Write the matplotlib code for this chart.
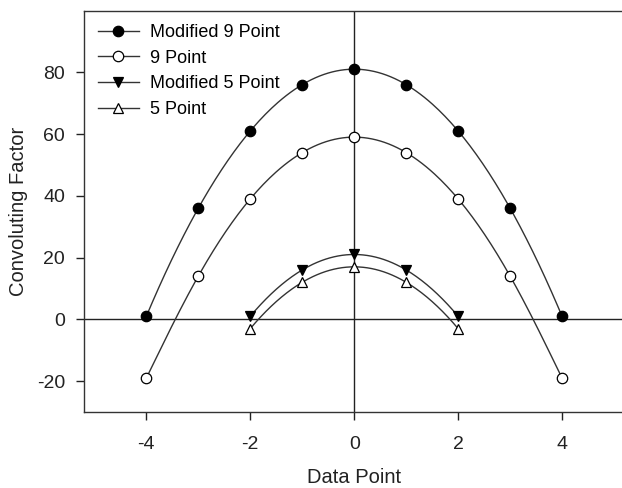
import numpy as np
import matplotlib
matplotlib.use("Agg")
import matplotlib.pyplot as plt

plt.rcParams['font.family'] = ['Liberation Sans', 'DejaVu Sans']
plt.rcParams['axes.unicode_minus'] = False

x9 = [-4, -3, -2, -1, 0, 1, 2, 3, 4]
mod9 = [1, 36, 61, 76, 81, 76, 61, 36, 1]
pt9 = [-19, 14, 39, 54, 59, 54, 39, 14, -19]

x5 = [-2, -1, 0, 1, 2]
mod5 = [1, 16, 21, 16, 1]
pt5 = [-3, 12, 17, 12, -3]

fig = plt.figure(figsize=(6.22, 4.88), dpi=100)
ax = fig.add_axes([84 / 622, 1 - 412 / 488, (624.4 - 84) / 622, (412 - 10.5) / 488])

ax.axhline(0, color='#222222', lw=1.0, zorder=1)
ax.axvline(0, color='#222222', lw=1.0, zorder=1)


def smooth(xs, ys):
    # smooth curve through the points (polynomial through every point)
    c = np.polyfit(xs, ys, len(xs) - 1)
    xf = np.linspace(xs[0], xs[-1], 200)
    return xf, np.polyval(c, xf)


series = [
    (x9, mod9, 'o', 'black', 'Modified 9 Point'),
    (x9, pt9, 'o', 'white', '9 Point'),
    (x5, mod5, 'v', 'black', 'Modified 5 Point'),
    (x5, pt5, '^', 'white', '5 Point'),
]

for xs, ys, mk, fc, lab in series:
    xf, yf = smooth(xs, ys)
    ax.plot(xf, yf, color='#333333', lw=1.0, zorder=2)
    ax.plot(xs, ys, linestyle='none', marker=mk, markersize=7.5,
            markerfacecolor=fc, markeredgecolor='black', markeredgewidth=0.9, zorder=3)
    # legend handle
    ax.plot([], [], color='#333333', lw=1.0, marker=mk, markersize=7.5,
            markerfacecolor=fc, markeredgecolor='black', markeredgewidth=0.9, label=lab)

ax.set_xlim(-5.2, 5.2)
ax.set_ylim(-30, 100)
ax.set_xticks([-4, -2, 0, 2, 4])
ax.set_yticks([-20, 0, 20, 40, 60, 80])
ax.tick_params(direction='out', length=6, width=1, labelsize=14, colors='#222222')
ax.tick_params(axis='y', pad=7.5)
ax.tick_params(axis='x', pad=11)
for s in ax.spines.values():
    s.set_color('#333333')
    s.set_linewidth(1.0)

ax.set_xlabel('Data Point', fontsize=14.5, color='#222222', labelpad=11)
ax.set_ylabel('Convoluting Factor', fontsize=14.5, color='#222222', labelpad=6.5)

ax.legend(loc='upper left', frameon=False, fontsize=13, handlelength=2.3,
          labelspacing=0.48, borderaxespad=0.35, handletextpad=0.6,
          bbox_to_anchor=(0.0, 1.0))

fig.savefig('out.png', dpi=100)
